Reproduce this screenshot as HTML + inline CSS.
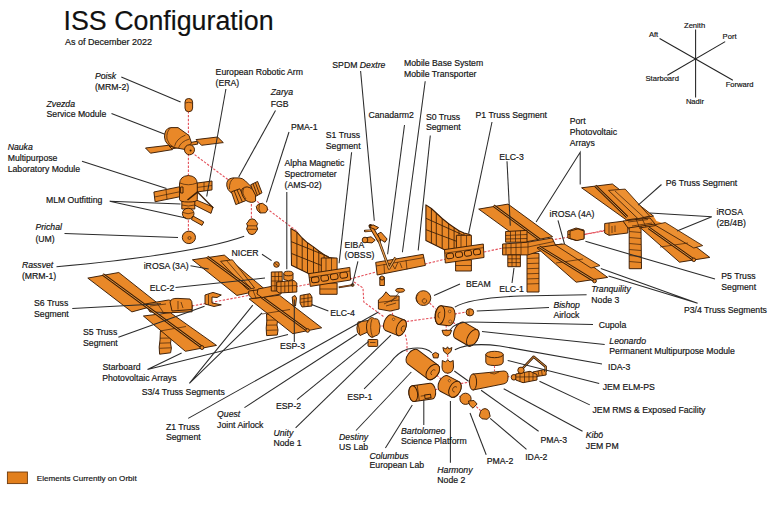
<!DOCTYPE html>
<html><head><meta charset="utf-8">
<style>
html,body{margin:0;padding:0;background:#fff;width:775px;height:506px;overflow:hidden}
svg{display:block}
text{font-family:"Liberation Sans",sans-serif;font-size:8.7px;fill:#141414;stroke:#141414;stroke-width:0.18px}
.i{font-style:italic}
.ax{font-size:7.6px}
.ld{stroke:#2b2b2b;stroke-width:1.05;fill:none}
.pk{stroke:#e4505a;stroke-width:1.1;fill:none;stroke-dasharray:2.4 1.5}
.o{fill:#e98828;stroke:#3a1c05;stroke-width:0.95;stroke-linejoin:round}
.ol{fill:#ec9032;stroke:#3a1c05;stroke-width:0.85;stroke-linejoin:round}
.dl{stroke:#3d2008;stroke-width:0.7;fill:none}
</style></head><body>
<svg width="775" height="506" viewBox="0 0 775 506">
<rect width="775" height="506" fill="#fff"/>

<!-- TITLE -->
<text x="63.5" y="30.2" style="font-size:26.8px;fill:#111">ISS Configuration</text>
<text x="65" y="44.8" style="font-size:9px">As of December 2022</text>

<!-- AXES -->
<g class="ld" style="stroke:#222">
<line x1="695.6" y1="29.5" x2="695.6" y2="97.6"/>
<line x1="659.6" y1="38.5" x2="732.9" y2="80.2"/>
<line x1="725.2" y1="41.6" x2="667.4" y2="75.3"/>
</g>
<text class="ax" x="684" y="27.5">Zenith</text>
<text class="ax" x="648.9" y="36.7">Aft</text>
<text class="ax" x="722.6" y="39.3">Port</text>
<text class="ax" x="645.5" y="81.4">Starboard</text>
<text class="ax" x="725.7" y="87.4">Forward</text>
<text class="ax" x="685.9" y="104">Nadir</text>

<!-- LEGEND -->
<rect x="7.4" y="472" width="20" height="11.6" fill="#e27f1c" stroke="#6e3a0c" stroke-width="0.9"/>
<text x="36.8" y="481.1" style="font-size:8.1px">Elements Currently on Orbit</text>

<!-- PINK CONNECTORS -->
<g class="pk">
<line x1="188.4" y1="111" x2="188.4" y2="238"/>
<line x1="188.4" y1="150" x2="298" y2="232"/>
<line x1="251.4" y1="204" x2="251.4" y2="220"/>
</g>

<!-- RUSSIAN SEGMENT -->
<g id="rs">
<!-- Poisk -->
<rect class="o" x="185" y="98.5" width="7.6" height="13.2" rx="3.6"/>
<path class="dl" d="M185.2,103 Q188.8,101.5 192.4,103"/>
<!-- Zvezda panels -->
<path class="o" d="M168,146.6 L197,141.3 L198,144 L169.5,149.3 Z"/>
<path class="o" d="M145.5,148 L168.3,145.3 L172.5,149.6 L150.5,153.2 Z"/>
<path class="o" d="M196,139.6 L217.6,137 L223.3,142.6 L201.5,145.3 Z"/>
<!-- Zvezda body -->
<path class="o" d="M164.5,137 Q164.5,128.5 170.5,127.6 L178,127.6 L189,135.5 L191.5,143 L185,149.5 L174,147.5 Q165,145 164.5,137 Z"/>
<path class="dl" d="M170.5,127.8 Q166,132 167,139 Q168.5,145 174,147.4"/>
<path class="dl" d="M174.5,146.5 Q176,139 185.5,135 M178.5,148 Q180.5,141.5 189.5,139"/>
<circle class="o" cx="189.5" cy="149.8" r="5"/>
<circle cx="190.6" cy="150.6" r="1" fill="#3d2008"/>
<!-- Nauka panels -->
<path class="o" d="M153.9,192 L180,186.7 L180.9,196.5 L155.1,201.8 Z"/>
<path class="dl" d="M154.5,197 L180.5,191.6 M166,189.5 L167,199"/>
<path class="o" d="M196.6,183.1 L212,181 L212,189.9 L196.9,192 Z"/>
<path class="dl" d="M196.7,187.5 L212,185.5 M204,182 L204,191"/>
<path class="o" d="M194,199 L213,207 L211,213.4 L193.4,204.5 Z"/>
<path class="dl" style="stroke-width:1.3" d="M197.5,192 L213.3,208"/>
<!-- Nauka body -->
<path class="o" d="M181.8,199 L194.8,199 L194.8,209 L181.8,209 Z"/>
<path class="o" d="M179.5,184 Q179.8,176 188.4,175.5 Q197,176 197.3,184 L197.3,199.5 Q197,202 188.4,202 Q179.8,202 179.5,199.5 Z"/>
<path class="dl" d="M179.8,183 Q188.4,186.5 197,183"/>
<path class="o" d="M180.6,187 L183,187 L183,193 L180.6,193 Z"/>
<path d="M187.5,200 L198,191.6" stroke="#3a1c05" stroke-width="1.6"/>
<path class="dl" d="M182,205 Q188.4,207 194.8,205"/>
<!-- MLM airlock sphere + radiator -->
<ellipse class="o" cx="188.2" cy="213.6" rx="5.8" ry="5.4"/>
<path class="dl" d="M183,212.5 Q188,215 193.5,212.5"/>
<path class="o" d="M193,216 L203.8,222 L202,225.4 L191.4,219.5 Z"/>
<!-- Prichal -->
<ellipse class="o" cx="188.9" cy="237.4" rx="6.6" ry="6.2"/>
<ellipse class="dl" cx="189.5" cy="238" rx="1.6" ry="1.4"/>
<!-- Zarya -->
<path class="o" d="M226.8,186 Q226,178.5 233,177.9 L239,177.9 Q242.5,178 245.5,181 L251.5,187 L249,193.5 L237,195 Q228,193 226.8,186 Z"/>
<path class="dl" d="M234,178 Q229,181 229.5,189"/>
<path class="o" d="M250.7,184.8 L257.6,181.4 L262,192.8 L255.1,196.7 Z"/>
<path class="dl" style="stroke-width:0.9" d="M253,183.7 L257.4,195.5 M255.3,182.5 L259.7,194.2"/>
<path class="o" d="M231.4,191.8 L239.8,188.8 L245.7,200.7 L235.8,204.6 Z"/>
<path class="dl" style="stroke-width:0.9" d="M234.2,190.8 L239,203.3 M237,189.8 L242.4,202"/>
<path class="o" d="M242,189 Q247,184.5 252.5,189.5 Q257,195 255.6,201 Q252,204 246,200.5 Q240.5,195 242,189 Z"/>
<path class="dl" d="M244,188 Q241,193 246,199"/>
<!-- PMA-1 -->
<path class="o" d="M256.3,206.5 Q258,203 262.5,203.3 L267,206.5 Q268.7,210.5 265.5,212.8 L260,213 Q256.3,210.5 256.3,206.5 Z"/>
<path class="dl" d="M259.5,203.8 Q257.8,209 260.5,212.8"/>
<!-- Rassvet -->
<path class="o" d="M248,222 Q249,218.8 252,218.8 Q255.5,219 256.5,222 L257.7,223.5 L256.6,226 L257.7,229 L256.5,231 Q255,234.6 252,234.6 Q248.5,234.5 247.6,231 L246.6,229 L247.6,226 L246.6,223.5 Z"/>
<path class="dl" d="M247.5,225.8 L256.8,225.8 M247.5,229.3 L256.8,229.3"/>
</g>

<!-- STARBOARD TRUSS -->
<g id="stbd">
<line class="pk" x1="192" y1="306" x2="310" y2="284"/>
<!-- S6 upper panel -->
<path class="o" d="M87.8,278.1 L118.8,272.5 L159.1,304.4 L131.9,311.9 Z"/>
<!-- S5 radiator -->
<path class="o" d="M160.4,331 L168,333 L171.4,338 L170.5,343 L171.4,348 L170.6,352.8 L159.6,354.2 L159.2,347 L160,340 Z"/>
<path class="dl" d="M160,338.2 L171,338 M159.6,343.2 L170.8,342.8 M159.4,348.3 L171,347.8"/>
<!-- S6 lower panel -->
<path class="o" d="M143.4,316 L170.3,312.7 L216.5,345.4 L185.4,351.3 Z"/>
<path class="dl" d="M160,331 L186,326.5"/>

<!-- S6/S5 truss block -->
<path class="o" d="M145,304 L168.6,300 L192.1,305 L192.1,311.8 L170,312.7 L150,312 Z"/>
<path class="o" d="M170,302 Q171,298 178,298.4 L190,299 Q192.5,301 192.1,305 L192,309.5 L172,311 Z"/>
<path class="dl" d="M178,301 L178,309.5 M181,302 L183,308"/>
<path class="dl" d="M150,306 L166,304 M157,303 L163,312"/>
<path d="M102.8,274.4 L202.3,347.5" stroke="#3a1c05" stroke-width="2.8"/><path d="M102.8,274.4 L202.3,347.5" stroke="#eea04a" stroke-width="0.9"/>
<circle class="o" cx="202" cy="347.6" r="1.9"/>
<!-- S5 C-box -->
<path class="o" d="M205,295 L213,292.4 L221.3,295 L217,297.5 L212,297 L212,303 L221.3,304.8 L214,306.5 L205,304 Z"/>
<path class="dl" d="M208.5,294.5 L208.5,305"/>
<!-- S4 upper panel -->
<path class="o" d="M192.4,259.8 L224.3,255.1 L265,289.4 L236.9,295.4 Z"/>
<path class="ol" d="M220.6,261.3 L232.4,259.8 L254.6,288 L247.2,289.4 Z"/>
<path class="dl" d="M226.5,260.5 L251,288.7"/>
<path d="M207.2,256.9 L250,288.5" stroke="#3a1c05" stroke-width="2.8"/><path d="M207.2,256.9 L250,288.5" stroke="#eea04a" stroke-width="0.9"/>

<!-- S3 radiator -->
<path class="o" d="M266.5,314 L274,314.5 L277.6,320 L277,325 L278,330 L277.3,335 L266.6,335.6 L266.2,328 L266.8,321 Z"/>
<path class="dl" d="M266.5,320.2 L277.5,320 M266.3,325.2 L277,325 M266.3,330.3 L277.8,330"/>
<!-- S4 lower panel -->
<path class="o" d="M249.1,298.9 L279.4,295.2 L321.7,327.8 L292.8,333.7 Z"/>
<path class="dl" d="M262,314 L290,309.5"/>
<path d="M252.8,290.7 L307.6,330.7" stroke="#3a1c05" stroke-width="2.8"/><path d="M252.8,290.7 L307.6,330.7" stroke="#eea04a" stroke-width="0.9"/>
<circle class="o" cx="307.6" cy="330.5" r="1.8"/>
<!-- S3/S4 joint -->
<path class="o" d="M248.7,291 L262,289.4 L266,293 L265,296.9 L252,298.5 L248.7,295 Z"/>
<path class="dl" d="M253,290.5 L256,298"/>
<!-- S3 truss with payloads -->
<path class="o" d="M258,289 L276,285.5 L282,288 L281,294 L262,297.5 L257,294 Z"/>
<path class="o" d="M271.3,272 L282.2,271.8 L282.2,291 L271.3,291 Z"/>
<path class="dl" d="M271.3,276.5 L282.2,276.5 M271.3,281 L282.2,281 M271.3,285.8 L282.2,285.8 M275,272 L275,291 M278.6,272 L278.6,291"/>
<path class="o" d="M276.7,282 L294,280.5 L296.8,283 L296.8,292 L279,293 L276.7,291 Z"/>
<path class="dl" d="M281,282 L281,292.8 M284.8,281.5 L284.8,292.6 M288.6,281.2 L288.6,292.4 M292.4,281 L292.4,292.2 M277,286.5 L296.5,285.5"/>
<path class="o" d="M283.8,273.5 L293,273.5 L293,279.5 Q288.4,282 283.8,279.5 Z"/>
<ellipse class="o" cx="288.4" cy="273.5" rx="4.6" ry="2.3"/>
<circle class="o" cx="276.5" cy="264.5" r="2.8"/>
<path class="dl" d="M274.5,263 L278.5,266"/>
<!-- ESP-3 small + ELC-4 -->
<path class="o" d="M292.2,297 L295,295.5 L296.5,298 L295.5,306 L293,306 Z"/>
<path class="o" d="M300.2,295.5 L310,293.7 L312,297 L312,306 L302,307 L300,303 Z"/>
<path class="dl" d="M304,294.5 L304,307 M308,294 L308,306.5 M300.5,299 L312,297.5 M300.5,302.5 L312,301"/>
</g>

<!-- CENTER TRUSS -->
<g id="ctr">
<line class="pk" x1="350" y1="279" x2="376" y2="272"/>
<line class="pk" x1="425" y1="264" x2="446" y2="259"/>
<line class="pk" x1="484" y1="252" x2="503" y2="248"/>
<line class="pk" x1="528" y1="244" x2="610" y2="230"/>
<line class="pk" x1="584" y1="234.6" x2="605" y2="230.2"/>
<!-- S1 radiator -->
<path class="o" d="M290.9,228.5 L296.9,232.1 L302.2,238 L307.5,242.8 L313.5,246.9 L318.8,251 L324.1,254.6 L328.9,257.6 L336,258.5 L336,276 L310,274.2 L291.5,265.3 Z" style="stroke-width:1.1"/>
<path class="dl" style="stroke-width:0.9" d="M296.9,232.1 L296.9,268.1 M302.2,238 L302.2,270.6 M307.5,242.8 L307.5,273.1 M313.5,246.9 L313.5,275 M318.8,251 L318.8,275 M324.1,254.6 L324.1,275 M291.1,241.6 L328.9,256.8 M291.3,253.4 L329,268.5"/>
<!-- S1 truss -->
<path class="o" d="M321.3,258 L337.1,258 L337.1,274 L321.3,274 Z"/>
<path class="dl" d="M326,258 L326,274 M331.5,258 L331.5,274"/>
<path class="o" d="M319.8,283 L337.1,283 L337.1,294.3 L319.8,294.3 Z"/>
<path class="dl" d="M319.8,289 L337.1,289"/>
<path class="o" d="M308.7,273.7 L349.8,267.4 L350.6,280 L310.3,286.4 Z"/>
<path class="dl" d="M309.2,277.5 L350,271"/>
<rect class="o" x="311.5" y="277" width="7.5" height="5.6" rx="2" transform="rotate(-8 315 280)"/>
<rect class="o" x="321" y="275.4" width="7.5" height="5.6" rx="2" transform="rotate(-8 324.5 278.4)"/>
<rect class="o" x="330.5" y="273.9" width="7.5" height="5.6" rx="2" transform="rotate(-8 334 276.9)"/>
<rect class="o" x="340" y="272.4" width="7.5" height="5.6" rx="2" transform="rotate(-8 343.5 275.4)"/>
<path d="M338.7,287.4 L352.4,285.1" stroke="#3a1c05" stroke-width="1.8"/><path d="M339.5,287.2 L351.5,285.2" stroke="#c87030" stroke-width="0.6"/>
<circle class="o" cx="352.6" cy="285" r="1.4"/>
<!-- Dextre + Canadarm2 -->
<path d="M365.1,231 L371,230.6" stroke="#3a1c05" stroke-width="2.4" stroke-linecap="round"/>
<path d="M365.1,231 L371,230.6" stroke="#e99a4a" stroke-width="1.1"/>
<path class="o" d="M377.6,234 L381,232.2 L387.1,239 L385,242.3 L379,238.5 Z"/>
<path class="o" d="M366,237.8 L371,236.8 L375.2,240.2 L372,242.9 L365.5,242.3 Z"/>
<circle class="o" cx="365" cy="240" r="2.8"/>
<path d="M370.5,226 L379,240.5" stroke="#3a1c05" stroke-width="4" stroke-linecap="round"/>
<path d="M370.5,226 L379,240.5" stroke="#e98828" stroke-width="2.3"/>
<path class="o" d="M369.3,227 L373,224.8 L378.6,227.6 L375.8,229.8 Z"/>
<!-- S0 truss -->
<path class="o" d="M375.7,262.4 L423.2,254.3 L425.4,265.4 L377.2,275 Z"/>
<path class="dl" d="M376,266 L424,257.6 M384,264 L384.5,273.7 M406,260 L407,269.5"/>
<path class="dl" d="M392,264 L395,269 L398,262 M400,263 L402,268"/>
<path class="o" d="M379.8,277.2 L384.4,277.2 L384.4,285.5 L379.8,285.5 Z"/>
<circle class="o" cx="382" cy="278" r="2"/>
<path d="M378.6,240 L389.1,268.4 L395.5,257.5" fill="none" stroke="#3d2008" stroke-width="2.6" stroke-linejoin="round"/>
<path d="M378.6,240 L389.1,268.4 L395.5,257.5" fill="none" stroke="#e8a050" stroke-width="1.2" stroke-linejoin="round"/>
<!-- P1 radiator -->
<path class="o" d="M425.9,204.9 L431.4,208.5 L436.3,213 L442.2,218.5 L448.7,223.7 L454.1,227.5 L459,230.8 L464,233 L470,234.5 L470,256 L445,250 L425.9,240.5 Z" style="stroke-width:1.1"/>
<path class="dl" style="stroke-width:0.9" d="M431.4,208.5 L431.4,243.2 M436.3,213 L436.3,245.6 M442.2,218.5 L442.2,248.4 M448.7,223.7 L448.7,251 M454.1,227.5 L454.1,252 M459,230.8 L459,253 M464,233 L464,254 M426,218.3 L464,235.5 M426,229.7 L469,246"/>
<!-- P1 truss -->
<path class="o" d="M456.4,235.3 L471.4,235.3 L471.4,248.8 L456.4,248.8 Z"/>
<path class="dl" d="M461,235.3 L461,248.8 M466.5,235.3 L466.5,248.8"/>
<path class="o" d="M455.6,259.9 L471.4,259.9 L471.4,271 L455.6,271 Z"/>
<path class="dl" d="M455.6,265.5 L471.4,265.5"/>
<path class="o" d="M444.5,249.6 L483.3,244 L484,257.5 L445.3,263 Z"/>
<path class="dl" d="M444.8,253.2 L483.6,247.6"/>
<rect class="o" x="446.5" y="253.2" width="7" height="5.4" rx="2" transform="rotate(-8 450 256)"/>
<rect class="o" x="455.5" y="251.9" width="7" height="5.4" rx="2" transform="rotate(-8 459 254.7)"/>
<rect class="o" x="464.5" y="250.6" width="7" height="5.4" rx="2" transform="rotate(-8 468 253.4)"/>
<rect class="o" x="473.5" y="249.3" width="7" height="5.4" rx="2" transform="rotate(-8 477 252.1)"/>
</g>

<!-- PORT TRUSS -->
<g id="port">
<!-- P4 upper panel -->
<path class="o" d="M478.7,209.1 L508,204.1 L552.6,236.7 L524.3,242.2 Z"/>
<path d="M493.6,205.7 L539.7,239.7" stroke="#3a1c05" stroke-width="2.8"/><path d="M493.6,205.7 L539.7,239.7" stroke="#eea04a" stroke-width="0.9"/>

<!-- P3 radiator stack -->
<path class="o" d="M527,253.4 L539,253.4 L539,292 L527,292 Z"/>
<path class="dl" d="M527,258.5 L539,258 M527,263.6 L539,263.2 M527,268.7 L539,268.3 M527,273.8 L539,273.4 M527,278.9 L539,278.5 M527,284 L539,283.6"/>
<!-- P3 truss + ELCs -->
<path class="o" d="M505.6,231.5 L527,230.4 L527,242.2 L505.6,242.2 Z"/>
<path class="dl" d="M505.6,235.5 L527,234.5 M505.6,239 L527,238.5 M510.5,231 L510.5,242 M515.5,231 L515.5,242 M520.5,230.6 L520.5,242"/>
<path class="o" d="M502.6,244 L527.8,242.2 L552,238 L556,246 L527.8,254.9 L502.6,254.9 Z"/>
<path class="dl" d="M506,244 L506,254.9 M511,243.6 L511,254.9 M516,243.3 L516,254.9 M521,243 L521,254.9 M528,242.5 L528,254.9 M503,248 L528,247 L554,241.5"/>
<path class="o" d="M507.8,254.9 L520.4,254.9 L520.4,266.7 L507.8,266.7 Z"/>
<path class="dl" d="M507.8,258.8 L520.4,258.8 M507.8,262.6 L520.4,262.6 M512,255 L512,266.7 M516.2,255 L516.2,266.7"/>
<!-- P4 lower panel -->
<path class="o" d="M537,247.8 L562,244 L607.7,277.4 L576.2,282.2 Z"/>
<path class="ol" d="M555,244.8 L564.4,244 L600,265.6 L591,268 Z"/>
<path class="dl" d="M556,263 L583,259"/>
<path d="M538.9,246.6 L594.6,281" stroke="#3a1c05" stroke-width="2.8"/><path d="M538.9,246.6 L594.6,281" stroke="#eea04a" stroke-width="0.9"/>
<circle class="o" cx="594.6" cy="281" r="1.8"/>
<!-- iROSA (4A) box / P5 -->
<path class="o" d="M567.8,231 L576,228 L584,230 L584,238.5 L576,240.5 L567.8,238 Z"/>
<path class="dl" d="M576,228.5 L576,240.5 M568,234.5 L584,234"/>
<path d="M626.5,219.8 L653.5,216.3 L656.5,221 L665.5,224.2 L640.5,228 L629,231 L625,223 Z" fill="#e98828"/>
<!-- P6 upper panel -->
<path class="o" d="M581.6,187.8 L612.4,184 L653.5,216.1 L626.5,220 Z"/>
<path class="ol" d="M608.5,190.4 L625.2,189.1 L649.6,216.1 L638,218.7 Z"/>
<path class="dl" d="M615,191 L644,217.5"/>
<path d="M595.2,185.7 L627.2,217.1" stroke="#3a1c05" stroke-width="2.8"/><path d="M595.2,185.7 L627.2,217.1" stroke="#eea04a" stroke-width="0.9"/>

<!-- P5 box -->
<path class="o" d="M570,231 L578,228.9 L584,231 L584,239 L577,240.5 L570,238.5 Z"/>
<!-- P6 radiator stack -->
<path class="o" d="M629.2,225.4 L641,225.4 L641.5,268.7 L629.2,268.7 Z"/>
<path class="dl" d="M629.2,231.5 L641,232.5 M629.2,237.5 L641,238.5 M629.2,243.5 L641,244.5 M629.2,249.5 L641,250.5 M629.2,255.5 L641,256.5 M629.2,261.5 L641,262.5"/>
<!-- P6 truss box -->
<path class="o" d="M604.7,223.5 L623,221.2 L627.8,223.5 L627.8,233 L609,235.3 L604.7,233 Z"/>
<path class="dl" d="M609,223 L609,235.3 M612,226 L612,233 M615,225.5 L615,232"/>
<path class="o" d="M623,221 L650,218 L655,224 L628,228 Z"/>
<!-- P6 lower panel -->
<path class="o" d="M640.4,227.8 L666,224 L709.8,257.4 L679.5,262.2 Z"/>
<path class="ol" d="M654.6,224.8 L665.3,222.5 L702.7,245.6 L693.8,248 Z"/>
<path class="dl" d="M660,247 L688,243"/>
<path d="M648.7,227.8 L693.8,259.8" stroke="#3a1c05" stroke-width="2.8"/><path d="M648.7,227.8 L693.8,259.8" stroke="#eea04a" stroke-width="0.9"/>
<circle class="o" cx="693.8" cy="259.8" r="1.8"/>
<path class="dl" d="M628,222 L648,219.5 M632,226 L652,223 M636,219 L640,229 M642,218.5 L646,227"/>
</g>

<!-- US SEGMENT -->
<g id="us">
<g class="pk">
<polyline points="354,282 363,288 363.8,302 384.6,317.3"/>
<line x1="391.5" y1="309" x2="393" y2="316"/>
<line x1="406.7" y1="321.5" x2="435.1" y2="317.5"/>
<line x1="429.6" y1="303" x2="435.8" y2="309.2"/>
<line x1="454.5" y1="314" x2="466.3" y2="312"/>
<line x1="446.2" y1="325" x2="446.2" y2="330"/>
<line x1="453" y1="322.3" x2="459" y2="327"/>
<polyline points="405.3,334.6 407,342 407,352"/>
<line x1="377.5" y1="326" x2="384" y2="326"/>
<line x1="436.7" y1="375.2" x2="441" y2="379"/>
<line x1="460.9" y1="383.5" x2="470" y2="382"/>
<line x1="447.7" y1="354.5" x2="447.7" y2="359.5"/>
<line x1="447.7" y1="371.7" x2="447.7" y2="377.3"/>
<line x1="435.3" y1="389.7" x2="439.4" y2="388.3"/>
<line x1="494.5" y1="365.5" x2="494.5" y2="371"/>
<line x1="456" y1="394" x2="462" y2="398"/>
<line x1="476.3" y1="406.6" x2="481" y2="411"/>
<line x1="507" y1="377" x2="511" y2="376"/>
</g>
<!-- S0 bottom cylinder / Z1 -->
<path class="o" d="M378.4,300 L383,296 L386,291.8 L390,296 L399.1,296 L399.1,309 L390,311.1 L378.4,309 Z"/>
<path class="dl" d="M378.4,302.5 L399,300 M384,304 L397,297.5 M386,306 L396,303"/>
<ellipse class="o" cx="400.1" cy="290.3" rx="4.5" ry="2"/>
<path class="dl" d="M391,302 L399.5,292"/>
<!-- Quest -->
<path class="o" d="M358,322 L368,320.5 L370,331 L360,335.5 Q356.5,333 356.9,328 Z"/>
<path class="o" d="M368.5,320 Q371,316 374.5,318.7 Q379,318.5 379,322 Q381,326 379.5,330 Q380,335 375,336 Q372,339 369.5,336 Q366.5,333 366.5,328 Q366,323 368.5,320 Z"/>
<path class="dl" d="M372,319 Q369,327 372.5,337 M358,324 Q360,330 359.5,335"/>
<rect class="o" x="368" y="339.5" width="9.7" height="6.9" rx="0.8"/>
<path class="dl" d="M370,342.5 L375.5,342.5"/>
<!-- Unity -->
<g transform="translate(396.3 325.8) rotate(22)">
<path class="o" d="M-8.3,-8.4 L5.3,-8.4 A4.4,8.4 0 0 1 5.3,8.4 L-8.3,8.4 A4.4,8.4 0 0 1 -8.3,-8.4 Z"/>
<ellipse class="o" cx="5.3" cy="0" rx="4.4" ry="8.4"/>
<path class="dl" d="M8,-3 A2.5,3 0 1 0 8,3"/>
<circle cx="-5" cy="-5" r="1.3" fill="#f0a050" stroke="#3d2008" stroke-width="0.5"/>
</g>
<!-- BEAM -->
<circle class="o" cx="423.4" cy="298.1" r="7.4"/>
<path class="dl" d="M418,294.5 Q414.5,298 418,302 M425,298.8 A2.2,2.2 0 1 0 425.5,299"/>
<!-- Node 3 -->
<g transform="translate(445 315.8) rotate(8)">
<path class="o" d="M-5,-9.4 L5,-9.4 A5,9.4 0 0 1 5,9.4 L-5,9.4 A5,9.4 0 0 1 -5,-9.4 Z"/>
<ellipse class="o" cx="-5" cy="0" rx="4.6" ry="9.4"/>
<path class="dl" d="M-5,-3 A2,3 0 0 0 -5,3"/>
<circle cx="4" cy="-5" r="1.3" fill="#f0a050" stroke="#3d2008" stroke-width="0.5"/>
<circle cx="6" cy="5" r="1.5" fill="#f0a050" stroke="#3d2008" stroke-width="0.5"/>
</g>
<!-- Bishop -->
<ellipse class="o" cx="469.9" cy="312.3" rx="3.8" ry="3.6"/>
<path class="dl" d="M469,309.5 L469,315"/>
<!-- Cupola -->
<path class="o" d="M442,330.3 L451.7,330.3 L450,334.5 Q447,337.5 443.5,334.5 Z"/>
<!-- Leonardo -->
<g transform="translate(467.6 334.8) rotate(30)">
<path class="o" d="M-9,-9.2 L6,-9.2 A5,9.2 0 0 1 6,9.2 L-9,9.2 A5,9.2 0 0 1 -9,-9.2 Z"/>
<ellipse class="o" cx="6" cy="0" rx="5" ry="9.2"/>
</g>
<!-- PMA-3 / IDA-3 -->
<path class="o" d="M442.9,347.5 L446,349 L447.5,346.8 L449,349 L451.9,347.5 L451,351.5 L447.5,354.5 L443.8,351.5 Z"/>
<path class="o" d="M442.3,360.5 L445.5,362 L447.7,359.8 L450,362 L453.2,360.5 L453.5,367 Q453,373 447.7,373.2 Q442.3,373 442,367 Z"/>
<!-- ESP-1 -->
<path class="o" d="M432.5,354 L435.5,352.4 L438.7,354 L438,357.9 L433.5,357.9 Z"/>
<!-- Destiny -->
<g transform="translate(424 365.4) rotate(37)">
<path class="o" d="M-14,-8.7 L11,-8.7 A5.5,8.7 0 0 1 11,8.7 L-14,8.7 A5.5,8.7 0 0 1 -14,-8.7 Z"/>
<ellipse class="o" cx="11" cy="0" rx="5.5" ry="8.7"/>
<path class="dl" d="M12,-3 A2.5,3 0 1 0 12,3"/>
</g>
<!-- Columbus -->
<g transform="translate(422.2 392.4) rotate(-8)">
<path class="o" d="M-9,-8 L9,-8 A4.5,8 0 0 1 9,8 L-9,8 A4.5,8 0 0 1 -9,-8 Z"/>
<ellipse class="o" cx="-9" cy="0" rx="4.3" ry="8"/>
<path class="dl" d="M-4,-8 L-4,8 M-2,3.5 L5,3.5 L5,8"/>
<rect class="o" x="2" y="3" width="6" height="3.5"/>
</g>
<!-- Harmony -->
<g transform="translate(451.4 387.4) rotate(28)">
<path class="o" d="M-8,-8.6 L4,-8.6 A5.5,8.6 0 0 1 4,8.6 L-8,8.6 A5.5,8.6 0 0 1 -8,-8.6 Z"/>
<ellipse class="o" cx="4" cy="0" rx="5.5" ry="8.6"/>
<path class="dl" d="M5,-2.5 A2.2,2.8 0 1 0 5,2.5"/>
<circle cx="-5" cy="-5" r="1.2" fill="#f0a050" stroke="#3d2008" stroke-width="0.5"/>
</g>
<!-- Kibo PM -->
<path class="o" d="M473,374 L504,371 Q508.5,371.5 508,377 Q508,383 504,383.8 L473,390 Z"/>
<ellipse class="o" cx="473" cy="382" rx="3.6" ry="8.1"/>
<path class="dl" d="M490,373 Q494,375.5 499,372"/>
<!-- JEM PS -->
<path class="o" d="M485.8,354.5 L503.2,354.5 L503.2,362 Q503,365.5 494.5,365.5 Q486,365.5 485.8,362 Z"/>
<ellipse class="o" cx="494.5" cy="354.5" rx="8.7" ry="3.2"/>
<!-- PMA-2 / IDA-2 -->
<circle class="o" cx="465.5" cy="398.8" r="5.6"/>
<path class="o" d="M468.5,401 L474,400.5 L477.1,404 L473,408.2 L469.5,405 Z"/>
<path class="o" d="M480.5,411.5 Q482,408.6 485,408.6 Q488,408.8 489,411.5 L490.2,416.5 L487,419.3 L482,418.8 L479.3,416 Z"/>
<!-- JEM EF + RMS -->
<ellipse class="o" cx="513.9" cy="377.3" rx="2.7" ry="2.8"/>
<path class="o" d="M532.8,372 L544,369.6 L546.1,372.5 L546.1,375 L534,376.9 Z"/>
<path class="dl" d="M538,371 L539,376 M541.5,370.3 L542.3,375.5"/>
<path d="M522.9,368 L533.7,356.7 L545.7,366.7 L545.7,372" fill="none" stroke="#3a1c05" stroke-width="2.5" stroke-linejoin="round"/>
<path d="M522.9,368 L533.7,356.7 L545.7,366.7 L545.7,372" fill="none" stroke="#eea04a" stroke-width="0.9" stroke-linejoin="round"/>
<path class="o" d="M515.8,374 L530,371.3 L537,374.5 L537,380 L523,382.7 L515.8,380 Z"/>
<path class="dl" d="M520,373.3 L520,381.5 M524.5,372.5 L524.5,382.3 M529,371.6 L529,381.4 M533,373 L533,380.8 M516,377 L537,376.8"/>
<circle class="o" cx="521" cy="370.3" r="3.2"/>
</g>

<!-- LEADERS -->
<g class="ld" id="leaders">
<line x1="121.3" y1="76.9" x2="180.6" y2="101.9"/>
<line x1="111.5" y1="113.5" x2="164.9" y2="134.2"/>
<line x1="82" y1="161.3" x2="166.5" y2="188.4"/>
<polyline points="180.6,203.9 109.7,201.3 185.8,218"/>
<line x1="64.5" y1="233.5" x2="178" y2="237.4"/>
<path d="M56.5,266.8 Q195,254 244.2,236.3"/>
<line x1="190.5" y1="265.8" x2="208.7" y2="268.9"/>
<line x1="175.5" y1="287.5" x2="265" y2="278"/>
<line x1="72.3" y1="308.4" x2="161" y2="303.7"/>
<line x1="118.4" y1="337.3" x2="204.5" y2="306.2"/>
<polyline points="181.6,353 147.5,369.5 288,334.5"/>
<polyline points="252.8,305.2 189.4,383.4 262,313"/>
<line x1="188.2" y1="418.4" x2="378.5" y2="312"/>
<line x1="244.5" y1="407.6" x2="357.1" y2="334.2"/>
<line x1="297" y1="399.6" x2="368.7" y2="341.4"/>
<line x1="295.6" y1="427.8" x2="390.9" y2="335.1"/>
<path d="M364.1,388.8 L390,363 Q398,352 408,349 Q425,346 432,353"/>
<line x1="356" y1="430.5" x2="411.3" y2="372"/>
<line x1="385.4" y1="448" x2="412.3" y2="405"/>
<line x1="423.8" y1="399.6" x2="423.8" y2="425.1"/>
<line x1="450.4" y1="400.9" x2="450.4" y2="462.7"/>
<line x1="470" y1="413" x2="486.2" y2="454.7"/>
<line x1="490.2" y1="418.4" x2="526.5" y2="449.3"/>
<line x1="454.3" y1="371" x2="468.6" y2="381.2"/><line x1="481.1" y1="390.2" x2="538.6" y2="431.3"/>
<line x1="503.7" y1="388.8" x2="582.5" y2="431.3"/>
<line x1="539.5" y1="381.2" x2="589.8" y2="404.9"/>
<line x1="507.7" y1="360.4" x2="599.2" y2="383.4"/>
<path d="M454.8,349.7 Q470,342 500,346 L602,363.9"/>
<line x1="482" y1="331.6" x2="604.7" y2="344.5"/>
<path d="M450,330 Q455,322 470,322 L593,324.6"/>
<line x1="476.8" y1="311" x2="549" y2="307.6"/>
<path d="M454.8,307.1 Q470,298 520,296 L586.6,294.7"/>
<polyline points="600.8,268.4 697.6,303.2 608.5,276.1"/>
<line x1="585.4" y1="241.3" x2="715" y2="279"/>
<polyline points="649.8,212.9 711.8,216.8 677,231"/>
<line x1="661.5" y1="184.5" x2="638.2" y2="205.2"/>
<line x1="558" y1="220.4" x2="564.6" y2="244.3"/>
<polyline points="580.2,184.5 580.2,152.3 536.1,222"/>
<line x1="507" y1="161.3" x2="510.3" y2="225.8"/>
<line x1="492" y1="122" x2="468.6" y2="233.6"/>
<line x1="430.3" y1="135.5" x2="418.2" y2="250.4"/>
<line x1="425.2" y1="81.3" x2="402.4" y2="252.3"/>
<line x1="404.5" y1="125" x2="387.6" y2="254.3"/>
<line x1="360.6" y1="71" x2="374.3" y2="220.8"/>
<line x1="351.6" y1="152.3" x2="339.1" y2="263.3"/>
<line x1="286.8" y1="191.9" x2="286.8" y2="269.2"/>
<line x1="289" y1="132" x2="266.4" y2="202.4"/>
<line x1="275.5" y1="110.5" x2="238.7" y2="176.9"/>
<line x1="225.9" y1="89" x2="206.7" y2="196.5"/>
<line x1="262" y1="254.2" x2="271.6" y2="260.6"/>
<line x1="357.9" y1="261.3" x2="352" y2="286"/>
<line x1="328.4" y1="311" x2="311.6" y2="304.5"/>
<line x1="294.3" y1="342" x2="294.3" y2="299.4"/>
<line x1="460" y1="284" x2="434" y2="295.5"/>
<line x1="512" y1="283" x2="514" y2="268"/>
</g>

<!-- LABELS -->
<g id="labels" transform="translate(0 0.4)">
<text class="i" x="94.9" y="78.5">Poisk</text><text x="94.9" y="89.4">(MRM-2)</text>
<text class="i" x="46.5" y="106.2">Zvezda</text><text x="46.5" y="117.1">Service Module</text>
<text class="i" x="7.7" y="149.7">Nauka</text><text x="7.7" y="160.8">Multipurpose</text><text x="7.7" y="171.6">Laboratory Module</text>
<text x="45.9" y="203.1">MLM Outfitting</text>
<text class="i" x="35.4" y="229.7">Prichal</text><text x="35.4" y="241.3">(UM)</text>
<text class="i" x="21.9" y="267.9">Rassvet</text><text x="21.9" y="278.7">(MRM-1)</text>
<text x="143.7" y="268.4">iROSA (3A)</text>
<text x="149.7" y="290.3">ELC-2</text>
<text x="34" y="305.8">S6 Truss</text><text x="34" y="316.9">Segment</text>
<text x="83" y="335">S5 Truss</text><text x="83" y="345.8">Segment</text>
<text x="102.5" y="369.5">Starboard</text><text x="102.2" y="380.8">Photovoltaic Arrays</text>
<text x="141.7" y="394.2">S3/4 Truss Segments</text>
<text x="165.9" y="429.7">Z1 Truss</text><text x="165.9" y="440">Segment</text>
<text class="i" x="217.1" y="416.2">Quest</text><text x="217.1" y="427.3">Joint Airlock</text>
<text x="276" y="408.2">ESP-2</text>
<text class="i" x="273.5" y="435.9">Unity</text><text x="273.5" y="446">Node 1</text>
<text x="347.2" y="399.6">ESP-1</text>
<text class="i" x="339.1" y="439.9">Destiny</text><text x="339.1" y="450">US Lab</text>
<text class="i" x="369.5" y="458.7">Columbus</text><text x="369.5" y="467.8">European Lab</text>
<text class="i" x="401" y="434">Bartolomeo</text><text x="401" y="443.6">Science Platform</text>
<text class="i" x="437.3" y="472.2">Harmony</text><text x="437.3" y="482.6">Node 2</text>
<text x="486.7" y="464.1">PMA-2</text>
<text x="525.2" y="460">IDA-2</text>
<text x="540.5" y="442.6">PMA-3</text>
<text class="i" x="585.8" y="437.7">Kibō</text><text x="585.8" y="448.8">JEM PM</text>
<text x="592.5" y="412.5">JEM RMS &amp; Exposed Facility</text>
<text x="602.7" y="389.6">JEM ELM-PS</text>
<text x="608" y="369.5">IDA-3</text>
<text class="i" x="609.3" y="343.8">Leonardo</text><text x="609.3" y="353.5">Permanent Multipurpose Module</text>
<text x="598.7" y="327.7">Cupola</text>
<text class="i" x="553.4" y="307.6">Bishop</text><text x="553.4" y="318">Airlock</text>
<text class="i" x="591.3" y="291.6">Tranquility</text><text x="591.3" y="302.7">Node 3</text>
<text x="683.9" y="312.8">P3/4 Truss Segments</text>
<text x="721.3" y="278.7">P5 Truss</text><text x="721.3" y="289.5">Segment</text>
<text x="716.4" y="214.2">iROSA</text><text x="716.4" y="225.3">(2B/4B)</text>
<text x="665.8" y="185.8">P6 Truss Segment</text>
<text x="549.5" y="216.8">iROSA (4A)</text>
<text x="569.7" y="124">Port</text><text x="569.7" y="135">Photovoltaic</text><text x="569.7" y="145.8">Arrays</text>
<text x="499.2" y="159.2">ELC-3</text>
<text x="475.5" y="117.4">P1 Truss Segment</text>
<text x="425.9" y="119.5">S0 Truss</text><text x="425.9" y="129.8">Segment</text>
<text x="368.5" y="117.4">Canadarm2</text>
<text x="404" y="65.8">Mobile Base System</text><text x="404" y="76.9">Mobile Transporter</text>
<text x="332.3" y="67.6">SPDM <tspan class="i">Dextre</tspan></text>
<text x="215.6" y="74.8">European Robotic Arm</text><text x="215.6" y="85.9">(ERA)</text>
<text class="i" x="270.8" y="95">Zarya</text><text x="270.8" y="106.3">FGB</text>
<text x="291" y="129.8">PMA-1</text>
<text x="325.8" y="137.5">S1 Truss</text><text x="325.8" y="148.4">Segment</text>
<text x="284.5" y="166">Alpha Magnetic</text><text x="284.5" y="176.8">Spectrometer</text><text x="284.5" y="187.6">(AMS-02)</text>
<text x="231.6" y="256">NICER</text>
<text x="344.4" y="247.2">EIBA</text><text x="344.4" y="258">(OBSS)</text>
<text x="330.2" y="316.1">ELC-4</text>
<text x="279.9" y="348.4">ESP-3</text>
<text x="466" y="286.5">BEAM</text>
<text x="499.2" y="291.6">ELC-1</text>
</g>

</svg>
</body></html>
